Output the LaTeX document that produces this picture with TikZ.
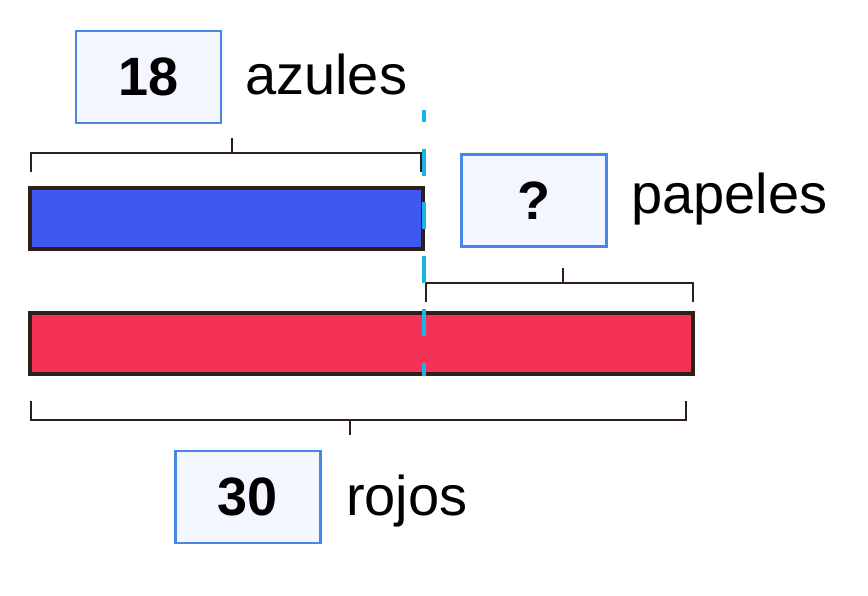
\documentclass[tikz,border=0pt]{standalone}
\usepackage{fontspec}
\setmainfont{Liberation Sans}
\usepackage{xcolor}
\usetikzlibrary{positioning,calc}
\definecolor{BarBlue}{RGB}{64,88,242}
\definecolor{BarRed}{RGB}{244,50,88}
\definecolor{EdgeDark}{RGB}{46,32,24}
\definecolor{BoxLine}{RGB}{74,134,232}
\definecolor{BoxFill}{RGB}{243,246,254}
\definecolor{CutCyan}{RGB}{30,180,225}
\tikzset{
    numbox/.style={rectangle, draw=BoxLine, fill=BoxFill, line width=2.2pt, minimum width=145pt, minimum height=92pt, inner sep=0pt, font=\fontsize{54}{60}\selectfont\bfseries},
    wordlabel/.style={anchor=base west, inner sep=0pt, font=\fontsize{56}{60}\selectfont},
    bar/.style={rectangle, draw=EdgeDark, line width=4pt, minimum height=61pt, inner sep=0pt}
}
\begin{document}
\begin{tikzpicture}[
        x=1pt, y=-1pt,
        % --- STYLE ---
        bracket/.style={draw=EdgeDark, line width=2pt},
        cutline/.style={draw=CutCyan, line width=4.5pt, dash pattern=on 27pt off 26.5pt, dash phase=15pt}
    ]
        \useasboundingbox (0,0) rectangle (868,595);

        % --- BARRAS ---
        \node[bar, fill=BarBlue, minimum width=393pt] (azul) at (226.5,218.5) {};
        \node[bar, fill=BarRed, minimum width=663pt] (rojo) at (361.5,343.5) {};

        % --- LLAVES ---
        \foreach \xa/\xb/\xm/\y/\d in {31/421/232/153/1, 426/693/563/283/1, 31/686/350/420/-1} {
            \draw[bracket] (\xa,\y+19*\d) -- (\xa,\y) -- (\xb,\y) -- (\xb,\y+19*\d);
            \draw[bracket] (\xm,\y) -- (\xm,\y-15*\d);
        }

        % --- LINEA DE CORTE ---
        \coordinate (corteA) at (424,110);
        \coordinate (corteB) at (424,376);
        \draw[cutline] (corteA) -- (corteB);

        % --- CAJAS Y TEXTOS ---
        \node[numbox] (n18) at (148.5,77) {18};
        \node[wordlabel] (tazul) at (245,94) {azules};

        \node[numbox] (npreg) at (534,200.5) {?};
        \node[wordlabel] (tpap) at (631,213) {papeles};

        \node[numbox] (n30) at (248,497) {30};
        \node[wordlabel] (troj) at (346,515) {rojos};

    \end{tikzpicture}
\end{document}
